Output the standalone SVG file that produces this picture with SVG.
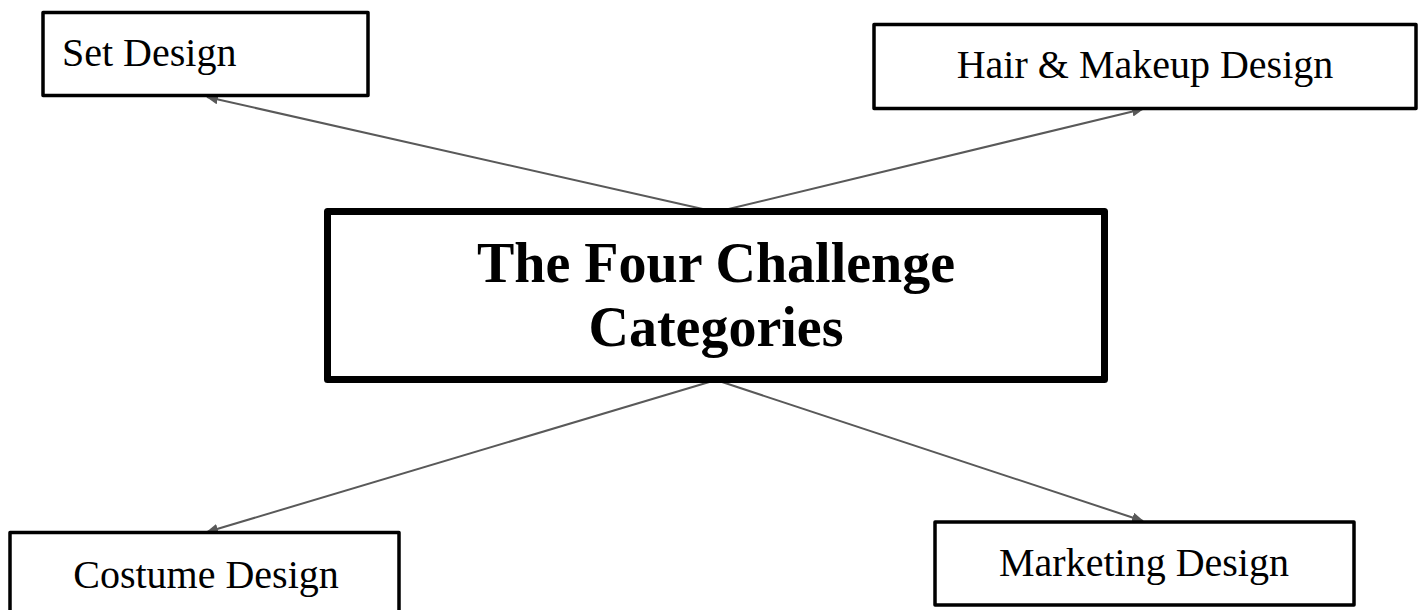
<svg xmlns="http://www.w3.org/2000/svg" width="1423" height="610" viewBox="0 0 1423 610">
<style>
.box{fill:#fff;stroke:#000;stroke-width:3.5;stroke-linejoin:round}
.main{fill:#fff;stroke:#000;stroke-width:7;stroke-linejoin:round}
.lbl{font-family:"Liberation Serif","DejaVu Serif",serif;font-size:40px;fill:#000}
.title{font-family:"Liberation Serif","DejaVu Serif",serif;font-size:56px;font-weight:bold;fill:#000;text-anchor:middle}
.conn{stroke:#595959;stroke-width:2;fill:none;marker-end:url(#ah)}
</style>
<defs>
<marker id="ah" markerWidth="12" markerHeight="10" refX="11" refY="5" orient="auto" markerUnits="userSpaceOnUse">
<path d="M0,0 L12,5 L0,10 Z" fill="#595959"/>
</marker>
</defs>
<rect width="1423" height="610" fill="#fff"/>
<g id="connectors">
<line class="conn" x1="716" y1="212" x2="207" y2="97"/>
<line class="conn" x1="716" y1="212" x2="1143" y2="109"/>
<line class="conn" x1="716" y1="380" x2="207" y2="532"/>
<line class="conn" x1="716" y1="380" x2="1143" y2="521"/>
</g>
<g id="set-design">
<rect class="box" x="43" y="12.5" width="325" height="83"/>
<text class="lbl" x="62" y="66">Set Design</text>
</g>
<g id="hair-makeup">
<rect class="box" x="874" y="24.5" width="542" height="84"/>
<text class="lbl" x="1145" y="78" text-anchor="middle">Hair &amp; Makeup Design</text>
</g>
<g id="center">
<rect class="main" x="327.5" y="211.5" width="777" height="168"/>
<text class="title" x="716" y="282">The Four Challenge</text>
<text class="title" x="716" y="346">Categories</text>
</g>
<g id="costume">
<rect class="box" x="10" y="532.5" width="389" height="100"/>
<text class="lbl" x="206" y="588" text-anchor="middle">Costume Design</text>
</g>
<g id="marketing">
<rect class="box" x="935" y="522" width="419" height="83"/>
<text class="lbl" x="1144" y="576" text-anchor="middle">Marketing Design</text>
</g>
</svg>
